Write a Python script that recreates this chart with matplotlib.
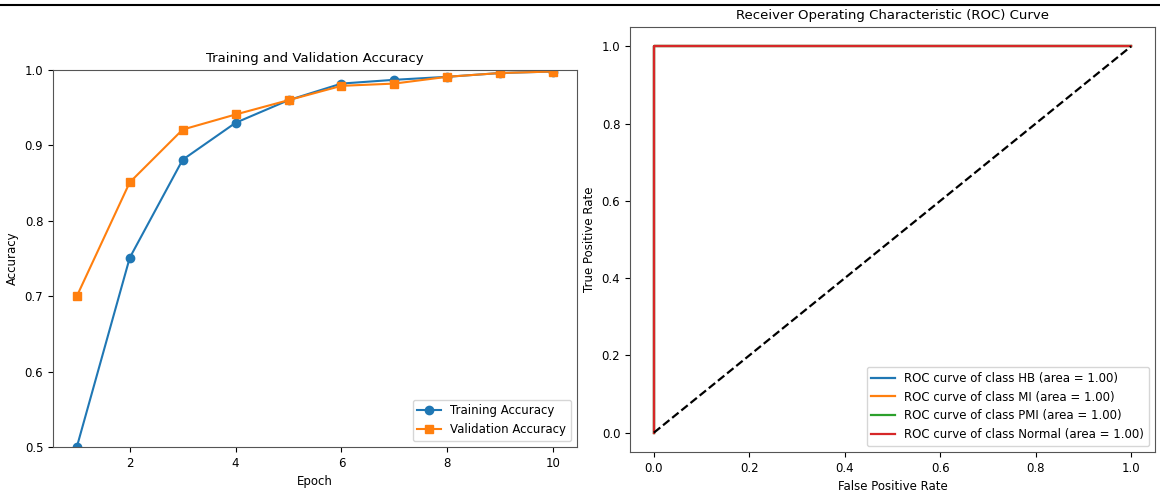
import matplotlib
matplotlib.use('Agg')
import matplotlib.pyplot as plt
from matplotlib.lines import Line2D

# accuracy per epoch
epochs = [1, 2, 3, 4, 5, 6, 7, 8, 9, 10]
train_acc = [0.50, 0.751, 0.881, 0.930, 0.960, 0.982, 0.987, 0.991, 0.996, 0.998]
val_acc = [0.70, 0.851, 0.921, 0.941, 0.960, 0.979, 0.982, 0.991, 0.996, 0.998]

# ROC curves (perfect classifier for every class)
class_names = ['HB', 'MI', 'PMI', 'Normal']
class_auc = [1.00, 1.00, 1.00, 1.00]
fpr = [0.0, 0.0, 1.0]
tpr = [0.0, 1.0, 1.0]

plt.rcParams['font.size'] = 8.5
plt.rcParams['axes.edgecolor'] = '#555555'

fig = plt.figure(figsize=(11.6, 4.95), dpi=100)

ax1 = fig.add_axes([53 / 1160, 48 / 495, 524 / 1160, 377 / 495])
ax1.plot(epochs, train_acc, marker='o', markersize=6, label='Training Accuracy')
ax1.plot(epochs, val_acc, marker='s', markersize=6, label='Validation Accuracy')
ax1.set_ylim(0.5, 1.0)
ax1.set_xlabel('Epoch')
ax1.set_ylabel('Accuracy')
ax1.set_title('Training and Validation Accuracy', fontsize=9.5)
ax1.legend(loc='lower right')

ax2 = fig.add_axes([630 / 1160, 43 / 495, 525 / 1160, 425 / 495])
for name, auc in zip(class_names, class_auc):
    ax2.plot(fpr, tpr, linewidth=1.6,
             label=f'ROC curve of class {name} (area = {auc:.2f})')
ax2.plot([0, 1], [0, 1], 'k--', linewidth=1.6)
ax2.set_xlabel('False Positive Rate')
ax2.set_ylabel('True Positive Rate')
ax2.set_title('Receiver Operating Characteristic (ROC) Curve', fontsize=9.5)
ax2.legend(loc='lower right')

# rule line at the top of the page
fig.add_artist(Line2D([0, 1], [0.99, 0.99], color='black', linewidth=1.5))

fig.savefig('out.png', dpi=100)
